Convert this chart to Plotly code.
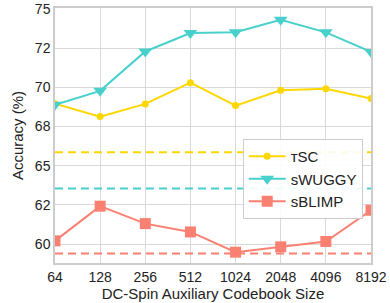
import plotly.graph_objects as go

categories = ["64", "128", "256", "512", "1024", "2048", "4096", "8192"]
tsc = [68.95, 68.13, 68.94, 70.29, 68.83, 69.81, 69.91, 69.28]
swuggy = [68.88, 69.77, 72.28, 73.45, 73.5, 74.3, 73.5, 72.25]
sblimp = [60.21, 62.42, 61.31, 60.78, 59.49, 59.83, 60.17, 62.16]
baseline_tsc = 65.85
baseline_swuggy = 63.54
baseline_sblimp = 59.41
ytick_vals = [60, 62.5, 65, 67.5, 70, 72.5, 75]
ytick_text = ["60", "62", "65", "68", "70", "72", "75"]

c_tsc = "#FFD700"
c_sw = "#48D1CC"
c_sb = "#FA8072"
font = "Liberation Sans, Arial, sans-serif"

fig = go.Figure()
fig.add_trace(go.Scatter(x=categories, y=tsc, mode="lines+markers", name="ᴛSC",
                         line=dict(color=c_tsc, width=2), marker=dict(symbol="circle", size=7, color=c_tsc)))
fig.add_trace(go.Scatter(x=categories, y=swuggy, mode="lines+markers", name="sWUGGY",
                         line=dict(color=c_sw, width=2), marker=dict(symbol="triangle-down", size=12, color=c_sw)))
fig.add_trace(go.Scatter(x=categories, y=sblimp, mode="lines+markers", name="sBLIMP",
                         line=dict(color=c_sb, width=2), marker=dict(symbol="square", size=11, color=c_sb)))
for val, col in [(baseline_tsc, c_tsc), (baseline_swuggy, c_sw), (baseline_sblimp, c_sb)]:
    fig.add_trace(go.Scatter(x=[categories[0], categories[-1]], y=[val, val], mode="lines",
                             line=dict(color=col, width=2, dash="8px,5px"), showlegend=False, hoverinfo="skip"))

fig.update_layout(
    width=390, height=303,
    margin=dict(l=55, r=19, t=8, b=40),
    plot_bgcolor="white", paper_bgcolor="white",
    font=dict(family=font, size=15, color="#222"),
    showlegend=True,
    legend=dict(x=0.594, y=0.486, xanchor="left", yanchor="top",
                bgcolor="rgba(255,255,255,0.9)", bordercolor="#cccccc", borderwidth=1,
                font=dict(size=15, family=font, color="#222"),
                itemwidth=37, tracegroupgap=0),
)
fig.update_xaxes(type="category", range=[0, 7], showgrid=True, gridcolor="#d9d9d9", gridwidth=1,
                 showline=True, linecolor="#cccccc", linewidth=1.5, mirror=True, automargin=False,
                 ticks="", tickfont=dict(size=14, family=font, color="#222"),
                 title=dict(text="DC-Spin Auxiliary Codebook Size", font=dict(size=15, family=font, color="#222"), standoff=4),
                 zeroline=False)
fig.update_yaxes(range=[58.8, 75.05], tickvals=ytick_vals, ticktext=ytick_text, automargin=False,
                 showgrid=True, gridcolor="#d9d9d9", gridwidth=1,
                 showline=True, linecolor="#cccccc", linewidth=1.5, mirror=True,
                 ticks="", tickfont=dict(size=14, family=font, color="#222"),
                 title=dict(text="Accuracy (%)", font=dict(size=15, family=font, color="#222"), standoff=8),
                 zeroline=False)

fig.write_html("out.html", config={"displayModeBar": False},
               post_script="document.body.style.margin='0';document.body.style.padding='0';")
